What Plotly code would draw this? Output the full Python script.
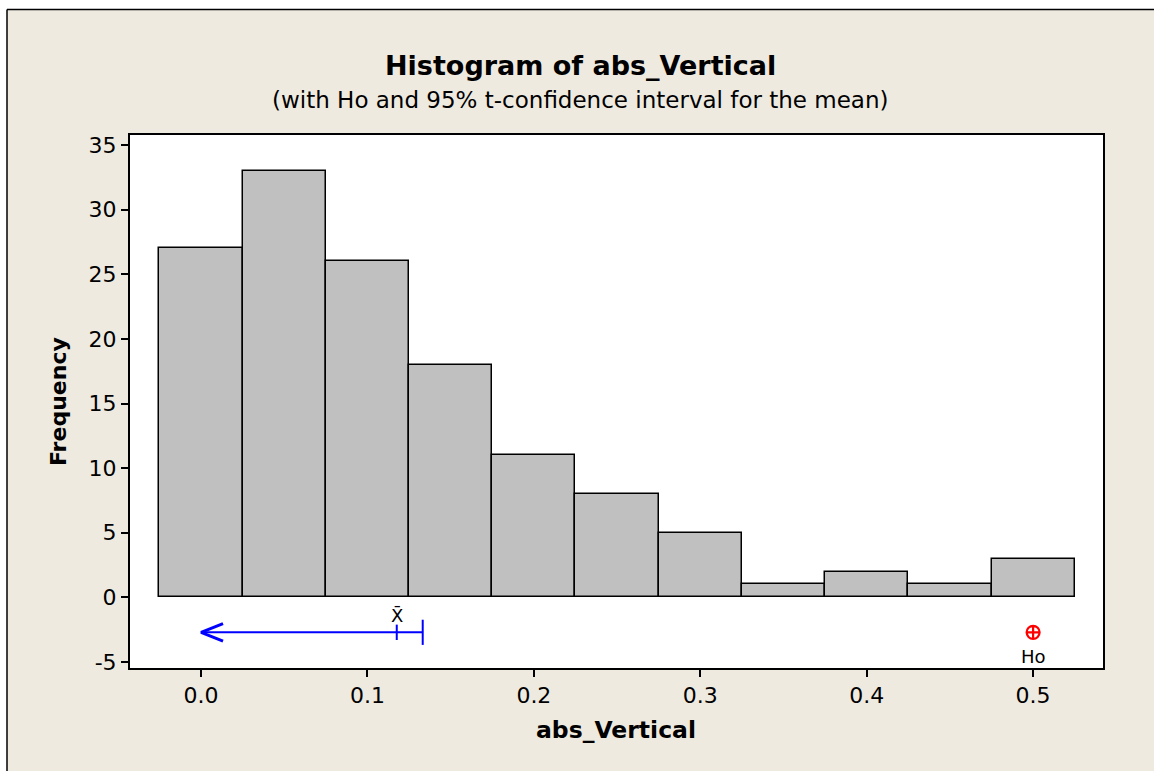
import plotly.graph_objects as go

# ---- data ----
bin_centers = [0.0, 0.05, 0.10, 0.15, 0.20, 0.25, 0.30, 0.35, 0.40, 0.45, 0.50]
frequencies = [27, 33, 26, 18, 11, 8, 5, 1, 2, 1, 3]
bin_width = 0.05
x_ticks = [0.0, 0.1, 0.2, 0.3, 0.4, 0.5]
x_tick_labels = ["0.0", "0.1", "0.2", "0.3", "0.4", "0.5"]
y_ticks = [-5, 0, 5, 10, 15, 20, 25, 30, 35]
y_tick_labels = ["-5", "0", "5", "10", "15", "20", "25", "30", "35"]
ci_mean = 0.1176
ci_upper = 0.1332
ci_arrow_end = 0.0
ci_level = -2.7
h0_value = 0.5

# ---- layout geometry (pixels) ----
W, H = 1154, 771
L, R, T, B = 130, 51, 135, 103
PW, PH = W - L - R, H - T - B


def xp(px):
    return (px - L) / PW


def yp(py):
    return (H - B - py) / PH


FONT = "DejaVu Sans"
BEIGE = "#EEEAE0"
BLUE = "#0000FF"
RED = "#FF0000"

# arrowhead style (size of chevron in data units)
HEAD_DX = 0.0132
HEAD_DY = 0.68

fig = go.Figure()

fig.add_trace(go.Bar(
    x=bin_centers, y=frequencies, width=bin_width,
    marker=dict(color="#C0C0C0", line=dict(color="black", width=1.5)),
    hoverinfo="x+y", showlegend=False,
))

# CI line
fig.add_trace(go.Scatter(
    x=[ci_arrow_end, ci_upper], y=[ci_level, ci_level], mode="lines",
    line=dict(color=BLUE, width=2), showlegend=False, hoverinfo="skip",
))
# chevron arrowhead at the open end
fig.add_trace(go.Scatter(
    x=[ci_arrow_end + HEAD_DX, ci_arrow_end, ci_arrow_end + HEAD_DX],
    y=[ci_level + HEAD_DY, ci_level, ci_level - HEAD_DY], mode="lines",
    line=dict(color=BLUE, width=3), showlegend=False, hoverinfo="skip",
))
# CI end cap and mean tick
fig.add_trace(go.Scatter(
    x=[ci_upper], y=[ci_level], mode="markers",
    marker=dict(symbol="line-ns-open", size=18, color=BLUE, line=dict(color=BLUE, width=2)),
    showlegend=False, hoverinfo="x",
))
fig.add_trace(go.Scatter(
    x=[ci_mean], y=[ci_level], mode="markers",
    marker=dict(symbol="line-ns-open", size=11, color=BLUE, line=dict(color=BLUE, width=2)),
    showlegend=False, hoverinfo="x",
))
# H0 marker
fig.add_trace(go.Scatter(
    x=[h0_value], y=[ci_level], mode="markers",
    marker=dict(symbol="circle-cross-open", size=13, color=RED, line=dict(color=RED, width=2.2)),
    showlegend=False, hoverinfo="x",
))

annotations = [
    dict(x=ci_mean, y=-1.4, xref="x", yref="y", text="X\u0304",
         showarrow=False, font=dict(family=FONT, size=18, color="black")),
    dict(x=h0_value, y=-4.55, xref="x", yref="y", text="Ho",
         showarrow=False, font=dict(family=FONT, size=18, color="black")),
    dict(x=xp(580), y=yp(65), xref="paper", yref="paper",
         text="<b>Histogram of abs_Vertical</b>", showarrow=False,
         font=dict(family=FONT, size=27, color="black"), xanchor="center", yanchor="middle"),
    dict(x=xp(580), y=yp(100), xref="paper", yref="paper",
         text="(with Ho and 95% t-confidence interval for the mean)", showarrow=False,
         font=dict(family=FONT, size=23, color="black"), xanchor="center", yanchor="middle"),
    dict(x=xp(616), y=yp(730), xref="paper", yref="paper",
         text="<b>abs_Vertical</b>", showarrow=False,
         font=dict(family=FONT, size=23.5, color="black"), xanchor="center", yanchor="middle"),
    dict(x=xp(58), y=yp(402), xref="paper", yref="paper",
         text="<b>Frequency</b>", showarrow=False, textangle=-90,
         font=dict(family=FONT, size=22, color="black"), xanchor="center", yanchor="middle"),
]

shapes = [
    # white strip at top and left (outside the frame)
    dict(type="rect", xref="paper", yref="paper", x0=xp(-5), x1=xp(W + 5), y0=yp(9.5), y1=yp(-5),
         fillcolor="white", line=dict(width=0), layer="above"),
    dict(type="rect", xref="paper", yref="paper", x0=xp(-5), x1=xp(7), y0=yp(H + 5), y1=yp(-5),
         fillcolor="white", line=dict(width=0), layer="above"),
    dict(type="line", xref="paper", yref="paper", x0=xp(7), x1=xp(W + 5), y0=yp(9.5), y1=yp(9.5),
         line=dict(color="black", width=1.5), layer="above"),
    dict(type="line", xref="paper", yref="paper", x0=xp(7), x1=xp(7), y0=yp(9.5), y1=yp(H + 5),
         line=dict(color="black", width=1.5), layer="above"),
]

fig.update_layout(
    width=W, height=H,
    margin=dict(l=L, r=R, t=T, b=B, pad=0),
    paper_bgcolor=BEIGE, plot_bgcolor="white",
    font=dict(family=FONT, size=22, color="black"),
    annotations=annotations, shapes=shapes,
    bargap=0, showlegend=False,
)
fig.update_xaxes(
    range=[-0.0427, 0.542], tickvals=x_ticks, ticktext=x_tick_labels,
    showgrid=False, zeroline=False, showline=True, mirror=True,
    linecolor="black", linewidth=2, ticks="outside", ticklen=7, tickwidth=2,
    tickcolor="black", tickfont=dict(family=FONT, size=22, color="black"),
)
fig.update_yaxes(
    range=[-5.46, 35.77], tickvals=y_ticks, ticktext=y_tick_labels,
    showgrid=False, zeroline=False, showline=True, mirror=True,
    linecolor="black", linewidth=2, ticks="outside", ticklen=7, tickwidth=2,
    tickcolor="black", tickfont=dict(family=FONT, size=22, color="black"),
)

fig.write_html("out.html")
